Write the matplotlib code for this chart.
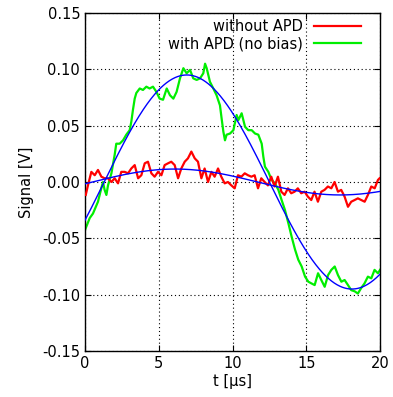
import numpy as np
import matplotlib
matplotlib.use("Agg")
import matplotlib.pyplot as plt

# Green series: with APD (no bias)
t_green = [0.0, 0.32, 0.54, 0.88, 1.11, 1.22, 1.33, 1.45, 1.56, 1.79, 2.01, 2.12, 2.35, 2.58,
           2.8, 3.03, 3.14, 3.25, 3.37, 3.48, 3.71, 3.93, 4.16, 4.38, 4.61, 4.84, 5.06, 5.29,
           5.54, 5.76, 5.99, 6.21, 6.44, 6.67, 6.89, 7.12, 7.34, 7.57, 7.8, 8.02, 8.14,
           8.25, 8.47, 8.7, 8.92, 9.15, 9.26, 9.38, 9.49, 9.6, 9.83, 10.06, 10.28, 10.4,
           10.62, 10.85, 11.07, 11.3, 11.53, 11.75, 11.98, 12.09, 12.2, 12.43, 12.65, 12.88,
           13.11, 13.33, 13.56, 13.79, 14.01, 14.24, 14.46, 14.69, 14.92, 15.14, 15.35,
           15.57, 15.8, 16.02, 16.25, 16.48, 16.7, 16.93, 17.15, 17.38, 17.6, 17.83, 18.05,
           18.28, 18.5, 18.73, 18.95, 19.18, 19.41, 19.63, 19.86, 20.0]
v_green = [-0.0426, -0.032, -0.028, -0.0175, -0.0053, 0.0, -0.007, -0.0115, -0.003, 0.0077,
           0.024, 0.034, 0.034, 0.037, 0.042, 0.046, 0.0535, 0.064, 0.074, 0.079, 0.083,
           0.0817, 0.0846, 0.083, 0.0846, 0.080, 0.074, 0.073, 0.083, 0.077, 0.074, 0.080,
           0.092, 0.101, 0.0965, 0.0995, 0.092, 0.0906, 0.092, 0.0965, 0.105, 0.101, 0.089,
           0.083, 0.077, 0.068, 0.0566, 0.0447, 0.037, 0.042, 0.043, 0.046, 0.0595, 0.055,
           0.061, 0.049, 0.046, 0.046, 0.043, 0.042, 0.034, 0.0225, 0.0136, 0.009, 0.0018,
           -0.0012, -0.007, -0.016, -0.025, -0.0367, -0.0486, -0.060, -0.069, -0.075, -0.084,
           -0.0885, -0.090, -0.0915, -0.081, -0.087, -0.093, -0.0826, -0.078, -0.075, -0.0826,
           -0.0885, -0.087, -0.0915, -0.096, -0.097, -0.099, -0.094, -0.090, -0.084, -0.0855,
           -0.078, -0.081, -0.078]

# Red series: without APD
t_red = [0.05, 0.2, 0.43, 0.66, 0.88, 1.11, 1.33, 1.56, 1.79, 2.01, 2.24, 2.46, 2.69, 2.92,
         3.14, 3.37, 3.6, 3.82, 4.05, 4.27, 4.5, 4.72, 4.95, 5.18, 5.4, 5.63, 5.85, 6.08,
         6.31, 6.53, 6.76, 6.98, 7.21, 7.44, 7.66, 7.89, 8.11, 8.34, 8.57, 8.79, 9.02, 9.24,
         9.47, 9.69, 9.92, 10.15, 10.37, 10.6, 10.83, 11.05, 11.28, 11.5, 11.73, 11.95,
         12.18, 12.4, 12.63, 12.85, 13.08, 13.31, 13.53, 13.76, 13.98, 14.21, 14.43, 14.66,
         14.89, 15.11, 15.34, 15.56, 15.79, 16.02, 16.24, 16.47, 16.7, 16.92, 17.15, 17.37,
         17.6, 17.83, 18.05, 18.28, 18.5, 18.73, 18.96, 19.18, 19.41, 19.64, 19.86, 19.97]
v_red = [-0.0115, -0.003, 0.009, 0.006, 0.0107, 0.0047, 0.0033, 0.0033, 0.0, 0.0033, -0.0012,
         0.009, 0.009, 0.0077, 0.012, 0.015, 0.0033, 0.006, 0.0166, 0.018, 0.0077, 0.0047,
         0.009, 0.006, 0.015, 0.0166, 0.018, 0.015, 0.0033, 0.012, 0.018, 0.021, 0.027,
         0.021, 0.018, 0.0033, 0.012, 0.0, 0.009, 0.0047, 0.012, 0.0047, -0.0012, 0.0,
         -0.003, -0.0056, 0.006, 0.0047, 0.0077, 0.006, 0.0047, 0.006, -0.0056, 0.0033, 0.0,
         -0.003, 0.0047, -0.004, 0.0047, -0.0086, -0.0115, -0.0056, -0.010, -0.0086, -0.0056,
         -0.010, -0.0086, -0.013, -0.016, -0.0086, -0.0175, -0.0086, -0.007, -0.004, -0.0056,
         0.0, -0.0086, -0.007, -0.013, -0.022, -0.0175, -0.016, -0.0145, -0.016, -0.0175,
         -0.0115, -0.004, -0.0056, 0.0018, 0.0033]

# Sine fit parameters (amplitude [V], period [us], zero crossing [us])
fit_green = (0.095, 22.4, 1.3)
fit_red = (0.0115, 22.4, 0.5)

xticks = [0, 5, 10, 15, 20]
yticks = [-0.15, -0.10, -0.05, 0.00, 0.05, 0.10, 0.15]

plt.rcParams['font.family'] = ['DejaVu Sans']
fig = plt.figure(figsize=(3.93, 3.97), dpi=100)
ax = fig.add_axes([85 / 393, 1 - 351 / 397, 295 / 393, 338 / 397])

ax.plot(t_red, v_red, color='#ff0000', lw=1.6, label='without APD', zorder=3)
ax.plot(t_green, v_green, color='#00ee00', lw=1.6, label='with APD (no bias)', zorder=2)

tt = np.linspace(0, 20, 400)
for a, p, t0 in (fit_green, fit_red):
    ax.plot(tt, a * np.sin(2 * np.pi * (tt - t0) / p), color='#0000ff', lw=1.0, zorder=4)

ax.set_xlim(0, 20)
ax.set_ylim(-0.15, 0.15)
ax.set_xticks(xticks)
ax.set_yticks(yticks)
ax.set_yticklabels([f"{v:.2f}" for v in yticks])
ax.tick_params(direction='in', length=4, width=0.8, top=True, right=True, labelsize=10.5,
               colors='black')
ax.grid(True, color='black', linestyle=(0, (1, 2.5)), lw=0.8)
for s in ax.spines.values():
    s.set_linewidth(1.0)
ax.set_xlabel('t [µs]', fontsize=10.5, labelpad=2)
ax.set_ylabel('Signal [V]', fontsize=10.5, labelpad=6)

leg = ax.legend(loc='upper right', frameon=False, markerfirst=False, fontsize=10.5,
                handlelength=3.2, borderaxespad=0.3, labelspacing=0.15,
                bbox_to_anchor=(0.97, 1.012))

fig.savefig('out.png', dpi=100)
